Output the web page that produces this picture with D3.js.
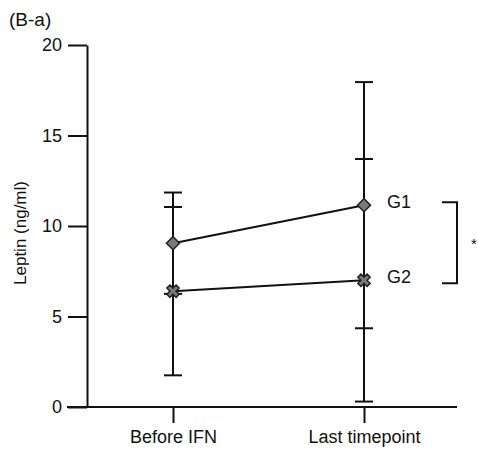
<!DOCTYPE html>
<meta charset="utf-8">
<script src="https://cdn.jsdelivr.net/npm/d3@7"></script>
<style>
  body { margin: 0; background: #fff; }
  text { font-family: "Liberation Sans", Arial, Helvetica, sans-serif; fill: #111; }
  .axis path, .axis line { stroke: #111; stroke-width: 2px; }
  .axis text { font-size: 18px; }
</style>
<div id="chart"></div>
<script>
  // data
  const timepoints = ["Before IFN", "Last timepoint"];
  const g1Mean = [9.05, 11.15];
  const g1Sd = [2.8, 6.8];
  const g2Mean = [6.4, 7.0];
  const g2Sd = [4.65, 6.7];
  const yTicks = [0, 5, 10, 15, 20];

  const width = 478, height = 451;

  const svg = d3.select("#chart")
    .append("svg")
      .attr("width", width)
      .attr("height", height);

  const x = d3.scalePoint()
    .domain(timepoints)
    .range([173, 364]);

  const y = d3.scaleLinear()
    .domain([0, 20])
    .range([407, 45]);

  // panel label
  svg.append("text")
    .attr("x", 9).attr("y", 26)
    .style("font-size", "19px")
    .text("(B-a)");

  // y axis
  svg.append("g")
    .attr("class", "axis")
    .attr("transform", "translate(87,0)")
    .call(d3.axisLeft(y).tickValues(yTicks).tickSize(19).tickSizeOuter(0).tickPadding(6));

  // x axis (baseline drawn wider than the scale range)
  const xAxis = svg.append("g")
    .attr("class", "axis")
    .attr("transform", "translate(0,407)")
    .call(d3.axisBottom(x).tickSize(16).tickSizeOuter(0).tickPadding(7));
  xAxis.select(".domain").remove();
  xAxis.append("line")
    .attr("x1", 67).attr("x2", 457)
    .attr("y1", 0).attr("y2", 0);

  svg.append("text")
    .attr("transform", "translate(26,233) rotate(-90)")
    .attr("text-anchor", "middle")
    .style("font-size", "17px")
    .text("Leptin (ng/ml)");

  const series = [
    {name: "G1", mean: g1Mean, sd: g1Sd, symbol: d3.symbolSquare, size: 85, rot: 45},
    {name: "G2", mean: g2Mean, sd: g2Sd, symbol: d3.symbolCross, size: 95, rot: 45}
  ];

  const capW = 9;

  // error bars
  series.forEach(s => {
    const g = svg.append("g");
    timepoints.forEach((t, i) => {
      const hi = s.mean[i] + s.sd[i], lo = s.mean[i] - s.sd[i];
      g.append("line")
        .attr("x1", x(t)).attr("x2", x(t))
        .attr("y1", y(hi)).attr("y2", y(lo))
        .attr("stroke", "#111").attr("stroke-width", 2);
      [hi, lo].forEach(v => {
        g.append("line")
          .attr("x1", x(t) - capW).attr("x2", x(t) + capW)
          .attr("y1", y(v)).attr("y2", y(v))
          .attr("stroke", "#111").attr("stroke-width", 2);
      });
    });
  });

  // lines and markers
  const line = d3.line()
    .x((d, i) => x(timepoints[i]))
    .y(d => y(d));

  series.forEach(s => {
    svg.append("path")
      .attr("d", line(s.mean))
      .attr("fill", "none")
      .attr("stroke", "#111")
      .attr("stroke-width", 2);

    svg.selectAll(null)
      .data(s.mean)
      .join("path")
        .attr("transform", (d, i) => `translate(${x(timepoints[i])},${y(d)}) rotate(${s.rot})`)
        .attr("d", d3.symbol().type(s.symbol).size(s.size))
        .attr("fill", "#7a7a7a")
        .attr("stroke", "#222")
        .attr("stroke-width", 1.5);
  });

  // group labels
  svg.append("text").attr("x", 387).attr("y", 208).style("font-size", "18px").text("G1");
  svg.append("text").attr("x", 387).attr("y", 283).style("font-size", "18px").text("G2");

  // significance bracket
  svg.append("path")
    .attr("d", `M442,${y(g1Mean[1]) - 3}H457V${y(g2Mean[1]) + 3}H442`)
    .attr("fill", "none")
    .attr("stroke", "#111")
    .attr("stroke-width", 2);

  svg.append("text")
    .attr("x", 471).attr("y", 249)
    .style("font-size", "15px")
    .text("*");
</script>
